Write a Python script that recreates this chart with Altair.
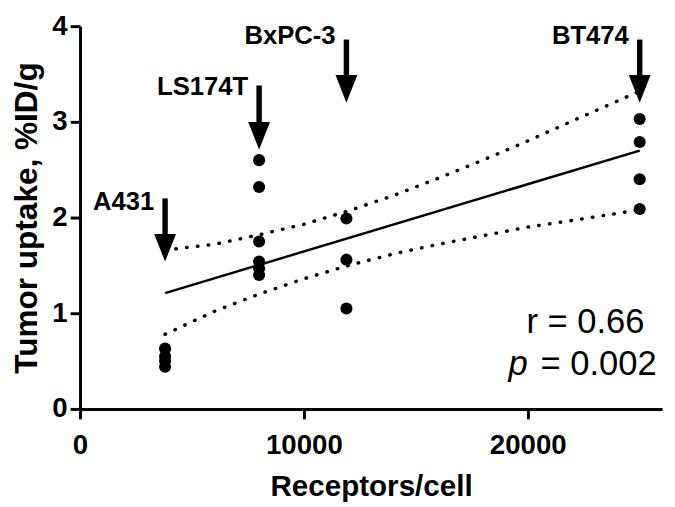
import altair as alt
import pandas as pd

# ---- data ----
cell_lines = ["A431", "LS174T", "BxPC-3", "BT474"]
receptors = [3800, 8000, 11900, 25000]
uptake = [
    [0.63, 0.55, 0.50, 0.44],
    [2.60, 2.32, 1.75, 1.54, 1.47, 1.40],
    [1.99, 1.56, 1.05],
    [3.03, 2.79, 2.40, 2.09],
]

fit_x = [3800, 25000]
fit_y = [1.21, 2.70]

band_x = [3800, 6000, 8000, 10000, 12000, 14000, 16000, 18000, 20000, 22000, 25000]
band_upper = [1.66, 1.72, 1.82, 1.93, 2.07, 2.23, 2.41, 2.60, 2.80, 3.01, 3.32]
band_lower = [0.78, 1.02, 1.20, 1.36, 1.50, 1.62, 1.72, 1.81, 1.90, 1.97, 2.08]

arrow_top = [2.20, 3.38, 3.86, 3.86]
arrow_tip = [1.54, 2.71, 3.20, 3.20]
label_y = [2.08, 3.28, 3.81, 3.81]

stat_text = ["r = 0.66", "p", "= 0.002"]
stat_x = [22580, 20000, 20000]
stat_y = [0.79, 0.35, 0.35]

x_ticks = [0, 10000, 20000]
y_ticks = [0, 1, 2, 3, 4]
x_title = "Receptors/cell"
y_title = "Tumor uptake, %ID/g"

# ---- tables ----
pts = pd.DataFrame(
    [
        {"cell": c, "x": rx, "y": v}
        for c, rx, vals in zip(cell_lines, receptors, uptake)
        for v in vals
    ]
)
fit_df = pd.DataFrame({"x": fit_x, "y": fit_y})
band_df = pd.DataFrame({"x": band_x, "upper": band_upper, "lower": band_lower})
arrows = pd.DataFrame(
    {"cell": cell_lines, "x": receptors, "top": arrow_top, "tip": arrow_tip, "ly": label_y}
)
stats = pd.DataFrame({"text": stat_text, "x": stat_x, "y": stat_y})

FONT = "Liberation Sans"
xs = alt.Scale(domain=[0, 26000], nice=False)
ys = alt.Scale(domain=[0, 4], nice=False)

axis_common = dict(
    grid=False,
    domainColor="black",
    domainWidth=3,
    tickColor="black",
    tickWidth=3,
    tickSize=10,
    labelFont=FONT,
    labelFontSize=28,
    labelFontWeight="bold",
    labelColor="black",
    labelFlush=False,
    titleFont=FONT,
    titleFontWeight="bold",
    titleColor="black",
    format="d",
)

X = alt.X("x:Q", scale=xs, title=x_title,
          axis=alt.Axis(values=x_ticks, labelPadding=13, titlePadding=13,
                        titleFontSize=30, **axis_common))
Y = alt.Y("y:Q", scale=ys, title=y_title,
          axis=alt.Axis(values=y_ticks, labelPadding=3, titlePadding=9,
                        titleFontSize=32, **axis_common))

points = alt.Chart(pts).mark_circle(size=150, color="black", opacity=1).encode(x=X, y=Y)

fit = alt.Chart(fit_df).mark_line(color="black", strokeWidth=2.5).encode(
    x=alt.X("x:Q", scale=xs), y=alt.Y("y:Q", scale=ys)
)

dot_style = dict(color="black", strokeWidth=3.5, strokeCap="round", strokeDash=[0.5, 10.5])
upper = alt.Chart(band_df).mark_line(**dot_style).encode(
    x=alt.X("x:Q", scale=xs), y=alt.Y("upper:Q", scale=ys)
)
lower = alt.Chart(band_df).mark_line(**dot_style).encode(
    x=alt.X("x:Q", scale=xs), y=alt.Y("lower:Q", scale=ys)
)

arrow_base = alt.Chart(arrows).transform_calculate(shaft_end="datum.tip + 0.15")
shafts = arrow_base.mark_rule(color="black", strokeWidth=5.5).encode(
    x=alt.X("x:Q", scale=xs), y=alt.Y("top:Q", scale=ys), y2="shaft_end:Q"
)
heads = arrow_base.mark_point(
    shape="M-0.79,-2L0.79,-2L0,0Z", size=784, filled=True, color="black", opacity=1, strokeWidth=0
).encode(x=alt.X("x:Q", scale=xs), y=alt.Y("tip:Q", scale=ys))
labels = arrow_base.mark_text(
    align="right", baseline="alphabetic", dx=-11, font=FONT, fontSize=26,
    fontWeight="bold", color="black"
).encode(x=alt.X("x:Q", scale=xs), y=alt.Y("ly:Q", scale=ys), text="cell:N")

stat_base = alt.Chart(stats)
stat_r = stat_base.transform_filter("datum.text == 'r = 0.66'").mark_text(
    align="center", baseline="alphabetic", font=FONT, fontSize=35, color="black"
).encode(x=alt.X("x:Q", scale=xs), y=alt.Y("y:Q", scale=ys), text="text:N")
stat_p = stat_base.transform_filter("datum.text == 'p'").mark_text(
    align="right", baseline="alphabetic", font=FONT, fontSize=35, fontStyle="italic", color="black"
).encode(x=alt.X("x:Q", scale=xs), y=alt.Y("y:Q", scale=ys), text="text:N")
stat_v = stat_base.transform_filter("datum.text == '= 0.002'").mark_text(
    align="left", baseline="alphabetic", dx=13, font=FONT, fontSize=35, color="black"
).encode(x=alt.X("x:Q", scale=xs), y=alt.Y("y:Q", scale=ys), text="text:N")

chart = (
    alt.layer(points, fit, upper, lower, shafts, heads, labels, stat_r, stat_p, stat_v)
    .properties(
        width=590,
        height=388,
        background="white",
        autosize=alt.AutoSizeParams(type="none"),
        padding={"left": 73, "top": 15, "right": 5, "bottom": 96},
    )
    .configure_view(stroke=None)
)

chart.save("out.html", embed_options={"renderer": "svg", "actions": False})
